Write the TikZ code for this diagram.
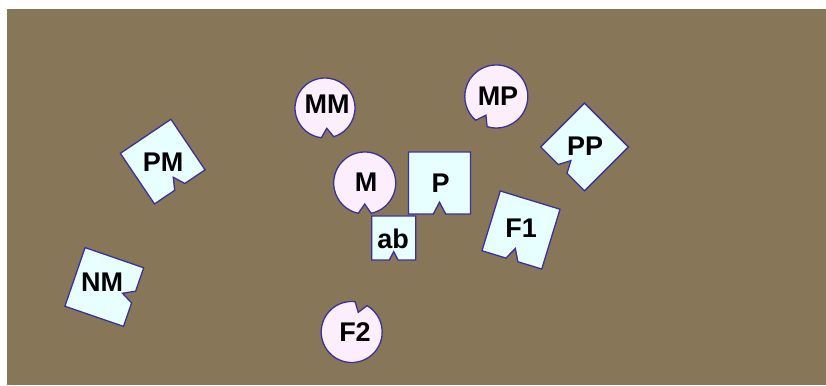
\documentclass[tikz,border=0pt]{standalone}
\usepackage{fontspec}
\setmainfont{Liberation Sans}
\definecolor{bgbrown}{RGB}{135,119,88}
\definecolor{pinkfill}{RGB}{253,238,253}
\definecolor{cyanfill}{RGB}{232,255,255}
\definecolor{rimblue}{RGB}{58,48,160}
\tikzset{
  piece/.style={draw=rimblue,line width=1.3pt,line join=miter},
  notchcirc/.pic={\path[piece,fill=pinkfill] (282:1) arc[start angle=282,end angle=618,radius=1] -- (0,-0.68) -- cycle;},
  notchsq/.pic={\path[piece,fill=cyanfill] (-0.5,0.5) -- (0.5,0.5) -- (0.5,-0.5) -- (0.1,-0.5) -- (0,-0.31) -- (-0.1,-0.5) -- (-0.5,-0.5) -- cycle;},
  lab/.style={inner sep=0pt,anchor=center,font=\fontsize{27}{32}\selectfont\bfseries,text=black}
}
\begin{document}
\begin{tikzpicture}[x=1pt,y=1pt]
\useasboundingbox (0,0) rectangle (826,385);
\fill[white] (0,0) rectangle (826,385);
\fill[bgbrown] (7,0) rectangle (826,376);
% circles
\pic[rotate=5,scale=30] at (325,277) {notchcirc};
\pic[rotate=0,scale=31] at (364.7,202) {notchcirc};
\pic[rotate=-29,scale=31.5] at (496.3,288.5) {notchcirc};
\pic[rotate=161.6,scale=30.5] at (351.7,53) {notchcirc};
% squares
\pic[rotate=0,scale=62] at (439.5,202) {notchsq};
\pic[rotate=0,scale=44] at (393.7,147) {notchsq};
\pic[rotate=-45,scale=62] at (584.5,238) {notchsq};
\pic[rotate=-17,scale=62.5] at (521,155) {notchsq};
\pic[rotate=34,scale=61] at (162.7,223.4) {notchsq};
\pic[rotate=71,scale=62] at (104.3,98) {notchsq};
% labels
\node[lab] (mm) at (327,280.5) {MM};
\node[lab] (m) at (366,202.5) {M};
\node[lab] (p) at (440.5,201.5) {P};
\node[lab] (ab) at (393,146) {ab};
\node[lab] (mp) at (498,289) {MP};
\node[lab] (pp) at (585,239) {PP};
\node[lab] (f1) at (521,157) {F1};
\node[lab] (pm) at (163,223) {PM};
\node[lab] (nm) at (102,103) {NM};
\node[lab] (f2) at (355,52.5) {F2};
\end{tikzpicture}
\end{document}
